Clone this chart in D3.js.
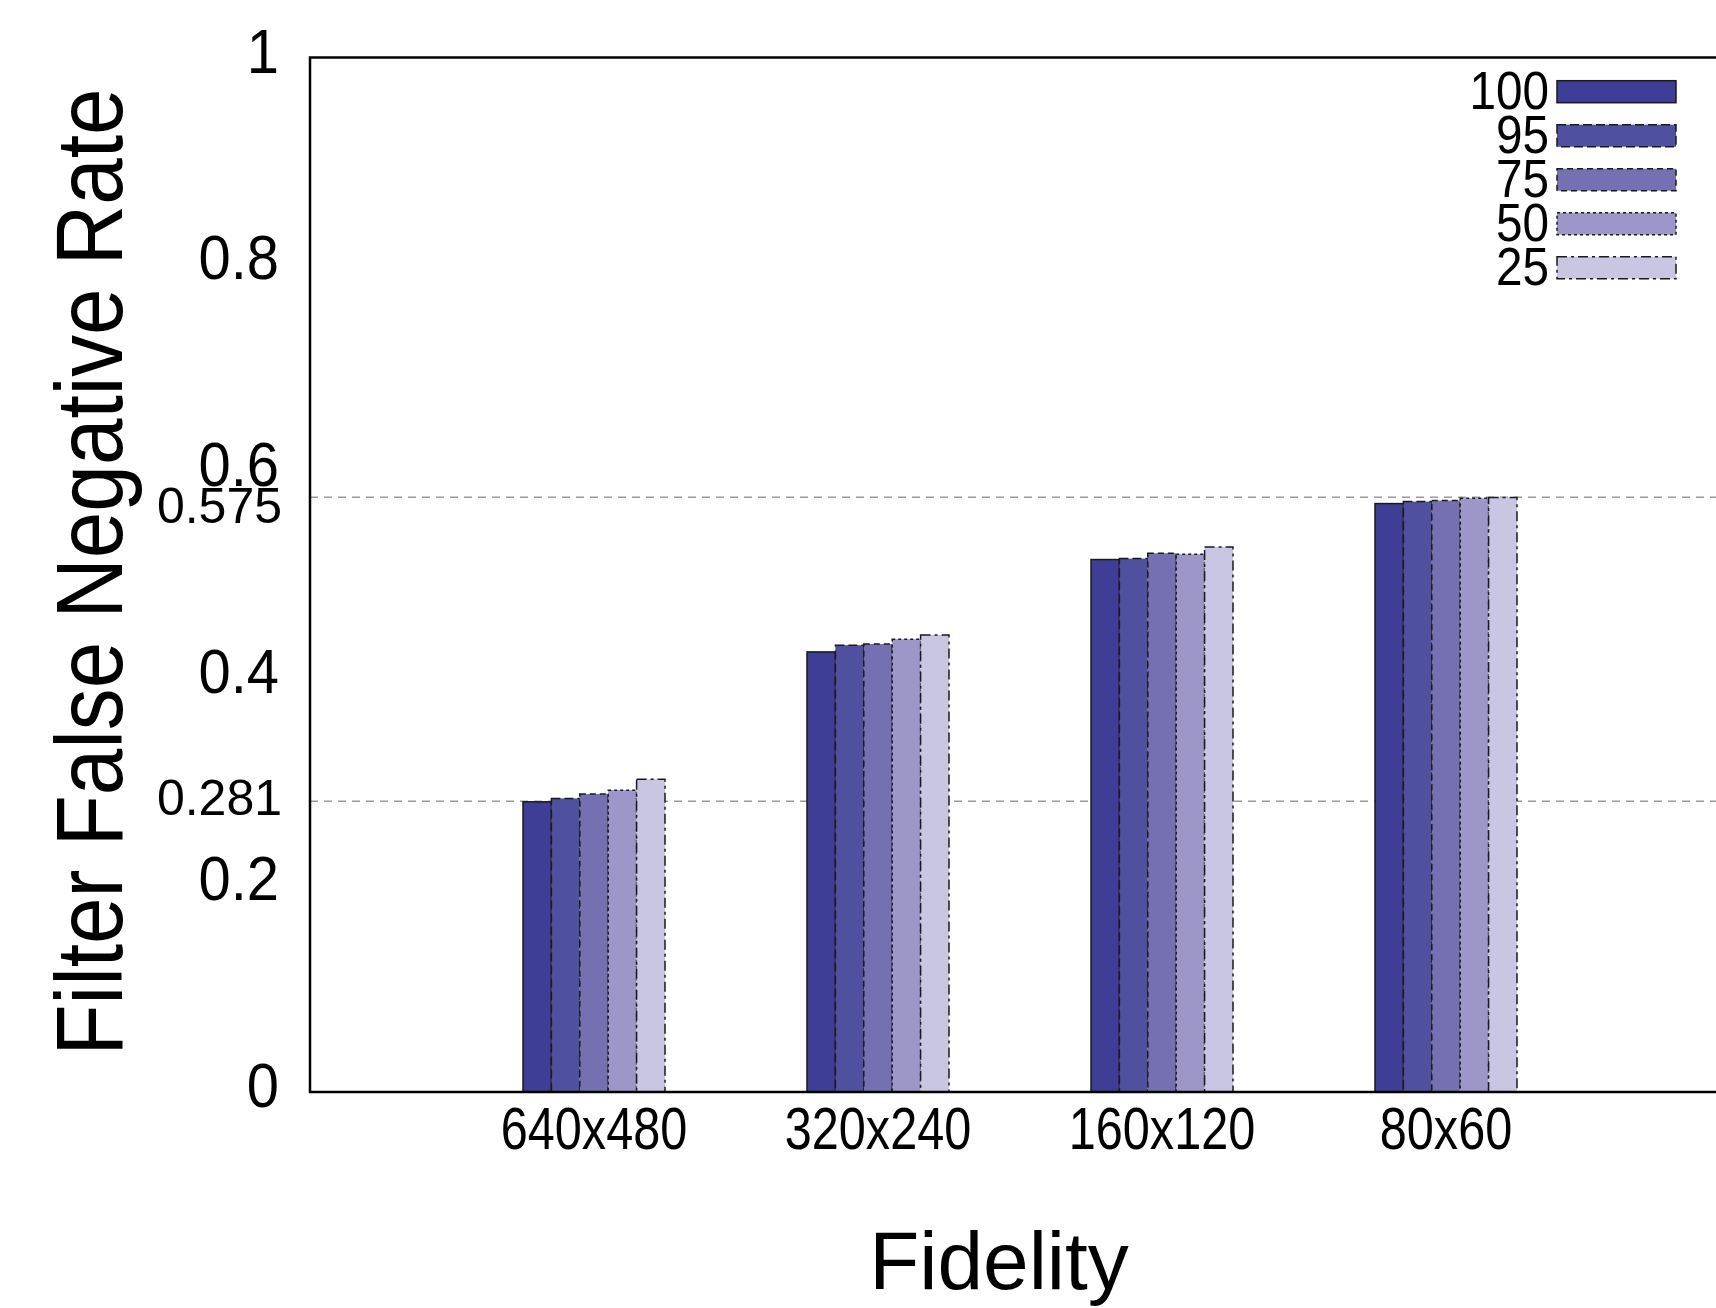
<!DOCTYPE html>
<html>
<head>
<meta charset="utf-8">
<script src="https://cdn.jsdelivr.net/npm/d3@7"></script>
<style>
  body { margin: 0; background: #fff; }
  text { font-family: "Liberation Sans", Arial, sans-serif; fill: #000; }
</style>
</head>
<body>
<div id="chart"></div>
<script>
const fidelities = ["640x480", "320x240", "160x120", "80x60"];
const qualities = ["100", "95", "75", "50", "25"];
const colors = ["#3e3e96", "#5050a0", "#7470b2", "#9c97c8", "#c8c6e2"];
const dashes = [null, "9,4", "6,4", "3,3", "10,4,3,4"];
// rows = fidelity, cols = quality
const rates = [
  [0.2805, 0.2838, 0.2880, 0.2918, 0.3024],
  [0.4254, 0.4319, 0.4331, 0.4377, 0.4418],
  [0.5147, 0.5156, 0.5208, 0.5198, 0.5269],
  [0.5688, 0.5707, 0.5717, 0.5739, 0.5746]
];
const yTicks = [0, 0.2, 0.4, 0.6, 0.8, 1];
const refLines = [0.281, 0.575];
const refLabelShift = [14, 26];

const W = 1716, H = 1308;
const mLeft = 310, mTop = 57.5, mBottom = 1092, mRight = 1730;

const svg = d3.select("#chart").append("svg").attr("width", W).attr("height", H);

const x = d3.scaleLinear().domain([-1, 4]).range([mLeft, mRight]);
const y = d3.scaleLinear().domain([0, 1]).range([mBottom, mTop]);
const unit = x(1) - x(0);
const inner = d3.scaleBand().domain(qualities).range([-unit * 0.25, unit * 0.25]);

// reference lines
svg.append("g").selectAll("line").data(refLines).join("line")
  .attr("x1", mLeft).attr("x2", mRight)
  .attr("y1", d => y(d)).attr("y2", d => y(d))
  .attr("stroke", "#9a9a9a").attr("stroke-width", 1.5)
  .attr("stroke-dasharray", "8,6");

// bars
const groups = svg.append("g").selectAll("g").data(fidelities).join("g")
  .attr("transform", (d, i) => `translate(${x(i)},0)`);
groups.selectAll("rect").data((d, i) => rates[i].map((v, j) => ({v, j})))
  .join("rect")
  .attr("x", d => inner(qualities[d.j]))
  .attr("width", inner.bandwidth())
  .attr("y", d => y(d.v))
  .attr("height", d => y(0) - y(d.v))
  .attr("fill", d => colors[d.j])
  .attr("stroke", "#1a1a1a").attr("stroke-width", 1.5)
  .attr("stroke-dasharray", d => dashes[d.j]);

// frame
svg.append("rect")
  .attr("x", mLeft).attr("y", mTop)
  .attr("width", mRight - mLeft).attr("height", mBottom - mTop)
  .attr("fill", "none").attr("stroke", "#000").attr("stroke-width", 2.5);

// y tick labels
svg.append("g").selectAll("text").data(yTicks).join("text")
  .attr("transform", d => `translate(279,${y(d) + 15}) scale(0.92,1)`)
  .attr("text-anchor", "end")
  .attr("font-size", 63)
  .text(d => d3.format("")(d));

// reference labels
svg.append("g").selectAll("text").data(refLines).join("text")
  .attr("x", 282).attr("y", (d, i) => y(d) + refLabelShift[i])
  .attr("text-anchor", "end")
  .attr("font-size", 50)
  .text(d => d);

// x tick labels
svg.append("g").selectAll("text").data(fidelities).join("text")
  .attr("transform", (d, i) => `translate(${x(i)},1149) scale(0.81,1)`)
  .attr("text-anchor", "middle")
  .attr("font-size", 60)
  .text(d => d);

// axis titles
svg.append("text")
  .attr("x", 999).attr("y", 1289)
  .attr("text-anchor", "middle")
  .attr("font-size", 82)
  .text("Fidelity");

svg.append("text")
  .attr("transform", "translate(122,572) rotate(-90) scale(0.89,1)")
  .attr("text-anchor", "middle")
  .attr("font-size", 94)
  .text("Filter False Negative Rate");

// legend
const legend = svg.append("g").selectAll("g").data(qualities).join("g")
  .attr("transform", (d, i) => `translate(0,${91.7 + i * 44})`);
legend.append("rect")
  .attr("x", 1557).attr("y", -11)
  .attr("width", 119).attr("height", 22)
  .attr("fill", (d, i) => colors[i])
  .attr("stroke", "#1a1a1a").attr("stroke-width", 1.5)
  .attr("stroke-dasharray", (d, i) => dashes[i]);
legend.append("text")
  .attr("transform", "translate(1549,17) scale(0.9,1)")
  .attr("text-anchor", "end")
  .attr("font-size", 53)
  .text(d => d);
</script>
</body>
</html>
